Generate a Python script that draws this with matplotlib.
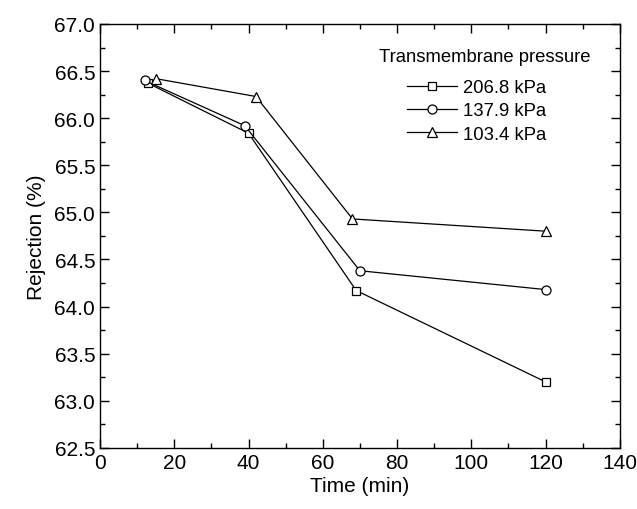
import numpy as np
import matplotlib
matplotlib.use("Agg")
import matplotlib.pyplot as plt
from matplotlib.ticker import MultipleLocator

plt.rcParams['font.family'] = ['Liberation Sans', 'DejaVu Sans']

# data
t_206 = [13, 40, 69, 120]
r_206 = [66.37, 65.84, 64.17, 63.20]
t_138 = [12, 39, 70, 120]
r_138 = [66.40, 65.92, 64.38, 64.18]
t_103 = [15, 42, 68, 120]
r_103 = [66.42, 66.23, 64.93, 64.80]
labels = ["206.8 kPa", "137.9 kPa", "103.4 kPa"]

fig = plt.figure(figsize=(6.37, 5.10), dpi=100)
ax = fig.add_axes([0.157, 0.120, 0.816, 0.831])

style = dict(color='black', lw=0.9, mfc='white', mec='black', mew=0.9)
ax.plot(t_206, r_206, marker='s', ms=6, label=labels[0], **style)
ax.plot(t_138, r_138, marker='o', ms=6.5, label=labels[1], **style)
ax.plot(t_103, r_103, marker='^', ms=7.5, label=labels[2], **style)

ax.set_xlim(0, 140)
ax.set_ylim(62.5, 67.0)
ax.xaxis.set_major_locator(MultipleLocator(20))
ax.xaxis.set_minor_locator(MultipleLocator(10))
ax.yaxis.set_major_locator(MultipleLocator(0.5))
ax.yaxis.set_minor_locator(MultipleLocator(0.25))
ax.yaxis.set_major_formatter(plt.FormatStrFormatter('%.1f'))
ax.tick_params(which='both', direction='in', top=True, right=True, labelsize=15)
ax.tick_params(which='major', length=6.5, width=1)
ax.tick_params(which='minor', length=3.5, width=1)
for s in ax.spines.values():
    s.set_linewidth(1)

ax.set_xlabel("Time (min)", fontsize=15, labelpad=3)
ax.set_ylabel("Rejection (%)", fontsize=15, labelpad=6)

# legend title drawn separately (bigger gap above entries than in mpl)
fig.text(484.5 / 637, 1 - 57 / 510, "Transmembrane pressure", fontsize=13.3,
         ha='center', va='center')
leg = ax.legend(frameon=False, fontsize=13.3, loc='upper left',
                bbox_to_anchor=(407 / 637, 1 - 80 / 510), bbox_transform=fig.transFigure,
                borderpad=0, borderaxespad=0,
                handlelength=2.7, handletextpad=0.32, labelspacing=0.34)

fig.savefig("out.png", dpi=100)
